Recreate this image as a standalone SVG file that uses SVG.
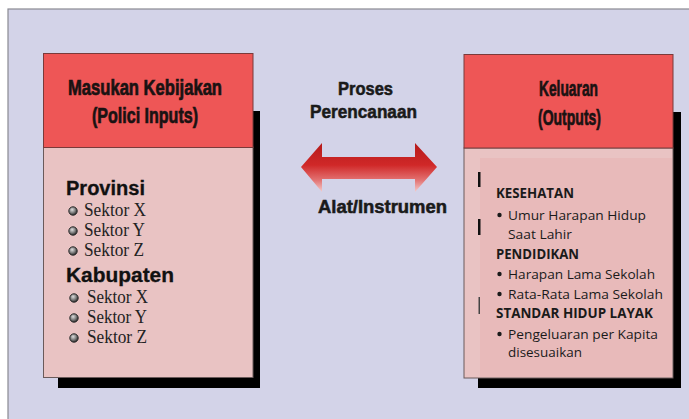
<svg xmlns="http://www.w3.org/2000/svg" width="689" height="419" viewBox="0 0 689 419">
<style>
.hdr{font-family:"Liberation Sans",Arial,sans-serif;font-weight:bold;font-size:21.5px;fill:#1a1212;stroke:#1a1212;stroke-width:0.7}
.mid{font-family:"Liberation Sans",Arial,sans-serif;font-weight:bold;font-size:18.5px;fill:#1a1a1a;stroke:#1a1a1a;stroke-width:0.55}
.grp{font-family:"Liberation Sans",Arial,sans-serif;font-weight:bold;font-size:20px;fill:#111;stroke:#111;stroke-width:0.3}
.sek{font-family:"Liberation Serif","Times New Roman",serif;font-size:18px;fill:#222}
.out{font-family:"Open Sans","Liberation Sans",sans-serif;font-size:13.5px;fill:#1a1a1a}
.outb{font-family:"Open Sans","Liberation Sans",sans-serif;font-size:13.5px;font-weight:bold;fill:#1a1a1a}
.head{fill:#ee5656;stroke:#7a3a3a;stroke-width:1}
.body{fill:#e9c3c3;stroke:#6a5a5a;stroke-width:1}
.shadow{fill:#000}
</style>
<defs>
<radialGradient id="ball" cx="40%" cy="35%" r="65%">
<stop offset="0" stop-color="#dcdcdc"/>
<stop offset="0.5" stop-color="#8a8a8a"/>
<stop offset="1" stop-color="#2a2a2a"/>
</radialGradient>
<linearGradient id="arr" x1="0" y1="0" x2="0" y2="1">
<stop offset="0" stop-color="#b51a1a"/>
<stop offset="0.45" stop-color="#d02828"/>
<stop offset="0.75" stop-color="#e27070"/>
<stop offset="1" stop-color="#f3cccc"/>
</linearGradient>
<g id="b"><circle r="4.2" fill="url(#ball)" stroke="#2a2a2a" stroke-width="1"/></g>
</defs>
<rect x="0" y="0" width="689" height="419" fill="#ffffff"/>
<rect x="8" y="9" width="690" height="420" fill="#d3d3e8" stroke="#8a8a92" stroke-width="1.2"/>

<g id="node-inputs">
<rect class="shadow" x="58" y="111" width="202" height="277"/>
<rect class="body" x="43.5" y="147" width="209.5" height="230.5"/>
<rect class="head" x="43.5" y="53.5" width="209.5" height="94"/>
<text class="hdr" x="68" y="95" textLength="154" lengthAdjust="spacingAndGlyphs">Masukan Kebijakan</text>
<text class="hdr" x="92" y="123" textLength="106" lengthAdjust="spacingAndGlyphs">(Polici Inputs)</text>
<text class="grp" x="66" y="195" textLength="79" lengthAdjust="spacingAndGlyphs">Provinsi</text>
<use href="#b" x="73" y="211"/>
<text class="sek" x="84" y="216" textLength="62" lengthAdjust="spacingAndGlyphs">Sektor  X</text>
<use href="#b" x="73" y="231"/>
<text class="sek" x="84" y="236" textLength="61" lengthAdjust="spacingAndGlyphs">Sektor  Y</text>
<use href="#b" x="73" y="251"/>
<text class="sek" x="84" y="256" textLength="60" lengthAdjust="spacingAndGlyphs">Sektor  Z</text>
<text class="grp" x="66" y="282" textLength="108" lengthAdjust="spacingAndGlyphs">Kabupaten</text>
<use href="#b" x="74" y="298"/>
<text class="sek" x="87" y="303" textLength="61" lengthAdjust="spacingAndGlyphs">Sektor  X</text>
<use href="#b" x="74" y="318"/>
<text class="sek" x="87" y="323" textLength="60" lengthAdjust="spacingAndGlyphs">Sektor  Y</text>
<use href="#b" x="74" y="338"/>
<text class="sek" x="87" y="343" textLength="60" lengthAdjust="spacingAndGlyphs">Sektor  Z</text>
</g>

<g id="node-outputs">
<rect class="shadow" x="478" y="112" width="203" height="276"/>
<rect class="body" x="464" y="148" width="209" height="230" fill="#ebc0c0"/>
<rect x="480" y="158" width="192" height="219" fill="#e8baba"/>
<rect class="head" x="464" y="54.5" width="209" height="93.5" fill="#ef5d5d"/>
<text class="hdr" x="539" y="96" textLength="59" lengthAdjust="spacingAndGlyphs">Keluaran</text>
<text class="hdr" x="538" y="125" textLength="63" lengthAdjust="spacingAndGlyphs">(Outputs)</text>
<rect x="478" y="172" width="2.5" height="15" fill="#111"/>
<rect x="478" y="219" width="2.5" height="16" fill="#111"/>
<rect x="478.5" y="297" width="1.5" height="17" fill="#444"/>
<text class="outb" x="496" y="198" textLength="78" lengthAdjust="spacingAndGlyphs">KESEHATAN</text>
<circle cx="499.5" cy="215" r="2.2" fill="#1a1a1a"/>
<text class="out" x="508" y="220" textLength="138" lengthAdjust="spacingAndGlyphs">Umur Harapan Hidup</text>
<text class="out" x="508" y="239" textLength="64" lengthAdjust="spacingAndGlyphs">Saat Lahir</text>
<text class="outb" x="496" y="259" textLength="83" lengthAdjust="spacingAndGlyphs">PENDIDIKAN</text>
<circle cx="499.5" cy="274" r="2.2" fill="#1a1a1a"/>
<text class="out" x="508" y="279" textLength="147" lengthAdjust="spacingAndGlyphs">Harapan Lama Sekolah</text>
<circle cx="499.5" cy="294" r="2.2" fill="#1a1a1a"/>
<text class="out" x="508" y="299" textLength="155" lengthAdjust="spacingAndGlyphs">Rata-Rata Lama Sekolah</text>
<text class="outb" x="496" y="318" textLength="157" lengthAdjust="spacingAndGlyphs">STANDAR HIDUP LAYAK</text>
<circle cx="499.5" cy="334" r="2.2" fill="#1a1a1a"/>
<text class="out" x="508" y="339" textLength="150" lengthAdjust="spacingAndGlyphs">Pengeluaran per Kapita</text>
<text class="out" x="508" y="357" textLength="74" lengthAdjust="spacingAndGlyphs">disesuaikan</text>
</g>

<g id="connectors">
<path d="M301,167 L322,143 L322,157 L415,157 L415,143 L437,167 L415,192 L415,179 L322,179 L322,192 Z" fill="url(#arr)"/>
<text class="mid" x="338" y="95" font-size="21" textLength="55" lengthAdjust="spacingAndGlyphs">Proses</text>
<text class="mid" x="310" y="118" font-size="20" textLength="107" lengthAdjust="spacingAndGlyphs">Perencanaan</text>
<text class="mid" x="318" y="213" textLength="129" lengthAdjust="spacingAndGlyphs">Alat/Instrumen</text>
</g>
</svg>
